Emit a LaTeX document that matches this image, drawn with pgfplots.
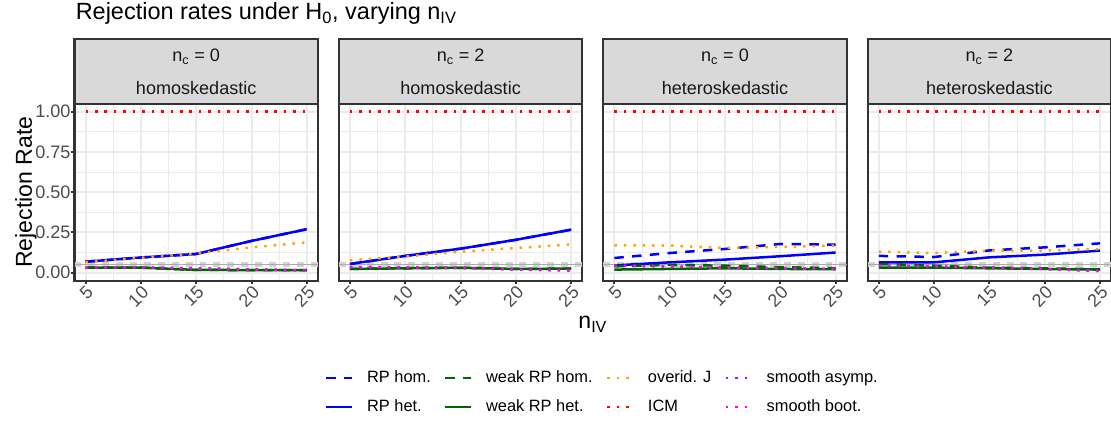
\documentclass[border=0pt]{standalone}
\usepackage{fontspec}
\setmainfont{Liberation Sans}
\usepackage{pgfplots}
\usepackage{pgfplotstable}
\pgfplotsset{compat=1.18}
\newlength\px
\setlength\px{0.72pt}
\definecolor{g92}{gray}{0.92}
\definecolor{g85}{gray}{0.85}
\definecolor{g20}{gray}{0.2}
\definecolor{g30}{gray}{0.3}
\definecolor{g10}{gray}{0.1}
\definecolor{rpblue}{RGB}{0,0,255}
\definecolor{wkgreen}{RGB}{0,100,0}
\definecolor{jorange}{RGB}{255,165,0}
\definecolor{icmred}{RGB}{255,0,0}
\definecolor{spurple}{RGB}{160,32,240}
\definecolor{smag}{RGB}{255,0,255}
\newcommand\tickfont{\fontsize{13}{15}\selectfont}
\newcommand\legfont{\fontsize{11.8}{14}\selectfont}
\newcommand\titlefont{\fontsize{16.9}{20}\selectfont}
\newcommand\labfont{\fontsize{16.6}{20}\selectfont}

\pgfplotstableread{
n rphom rphet wkhom wkhet J ICM sasy sboot
5 0.068 0.068 0.031 0.031 0.064 1 0.034 0.033
10 0.094 0.094 0.031 0.031 0.092 1 0.032 0.032
15 0.116 0.116 0.017 0.017 0.119 1 0.027 0.026
20 0.197 0.197 0.016 0.016 0.157 1 0.021 0.020
25 0.270 0.270 0.016 0.016 0.188 1 0.014 0.013
}\tabA
\pgfplotstableread{
n rphom rphet wkhom wkhet J ICM sasy sboot
5 0.054 0.054 0.023 0.023 0.077 1 0.035 0.035
10 0.104 0.104 0.027 0.027 0.100 1 0.033 0.033
15 0.149 0.149 0.030 0.030 0.130 1 0.029 0.029
20 0.204 0.204 0.023 0.023 0.153 1 0.020 0.019
25 0.267 0.267 0.025 0.025 0.175 1 0.014 0.013
}\tabB
\pgfplotstableread{
n rphom rphet wkhom wkhet J ICM sasy sboot
5 0.091 0.045 0.039 0.019 0.170 1 0.043 0.043
10 0.122 0.064 0.048 0.023 0.168 1 0.039 0.039
15 0.147 0.081 0.043 0.027 0.153 1 0.031 0.031
20 0.178 0.102 0.034 0.023 0.160 1 0.027 0.027
25 0.174 0.125 0.028 0.021 0.168 1 0.023 0.023
}\tabC
\pgfplotstableread{
n rphom rphet wkhom wkhet J ICM sasy sboot
5 0.104 0.064 0.054 0.031 0.130 1 0.043 0.043
10 0.097 0.064 0.043 0.031 0.122 1 0.039 0.039
15 0.138 0.095 0.031 0.027 0.137 1 0.031 0.031
20 0.157 0.112 0.027 0.023 0.137 1 0.023 0.022
25 0.182 0.137 0.021 0.019 0.147 1 0.011 0.010
}\tabD

\tikzset{
  s dash/.style={dash pattern=on 6.8pt off 6pt},
  s dot/.style={dash pattern=on 1.8pt off 5pt},
  s rphom/.style={rpblue, line width=1.8pt, s dash},
  s rphet/.style={rpblue, line width=1.8pt, solid},
  s wkhom/.style={wkgreen, line width=1.8pt, s dash},
  s wkhet/.style={wkgreen, line width=1.8pt, solid},
  s J/.style={jorange, line width=1.8pt, s dot},
  s ICM/.style={icmred, line width=1.8pt, s dot},
  s sasy/.style={spurple, line width=1.8pt, s dot},
  s sboot/.style={smag, line width=1.8pt, s dot},
  s band/.style={gray!35, line width=3.6pt, dash pattern=on 5pt off 5pt},
  s ref/.style={gray!65, line width=0.6pt},
}

\pgfplotsset{
  panel/.style={
    scale only axis, width=243.4\px, height=177.1\px, anchor=south west,
    xmin=4, xmax=26, ymin=-0.05, ymax=1.05,
    xtick={5,10,15,20,25}, ytick={0,0.25,0.5,0.75,1},
    minor xtick={7.5,12.5,17.5,22.5}, minor ytick={0.125,0.375,0.625,0.875},
    grid=both,
    major grid style={g92, line width=1.45pt},
    minor grid style={g92, line width=0.72pt},
    axis line style={g20, line width=1.45pt},
    tick align=outside, tick pos=left,
    major tick length=3.8\px, minor tick length=0pt,
    tick style={g20, line width=1.45pt},
    tick label style={font=\tickfont, text=g30},
    /pgf/number format/assume math mode=true,
    xticklabel style={inner sep=0pt, rotate=45, anchor=north east},
    yticklabel style={inner sep=0pt, anchor=east},
    clip=false,
  },
}

\newcommand\panel[5]{%
\begin{axis}[panel, at={(#1\px,142.3\px)}, #5,
  after end axis/.append code={
    \draw[fill=g85, draw=g20, line width=1.45pt] (axis description cs:0,1) rectangle (axis description cs:1,1.3648);
    \node[anchor=base, font=\tickfont, text=g10, inner sep=0pt] at (axis description cs:0.5,1.2366) {#2};
    \node[anchor=base, font=\tickfont, text=g10, inner sep=0pt] at (axis description cs:0.5,1.0525) {#3};
  }]
  \addplot[s band] coordinates {(4,0.05) (26,0.05)};
  \addplot[s ref] coordinates {(4,0.05) (26,0.05)};
  \addplot[s rphom] table[x=n,y=rphom] {#4};
  \addplot[s rphet] table[x=n,y=rphet] {#4};
  \addplot[s wkhom] table[x=n,y=wkhom] {#4};
  \addplot[s wkhet] table[x=n,y=wkhet] {#4};
  \addplot[s J] table[x=n,y=J] {#4};
  \addplot[s ICM] table[x=n,y=ICM] {#4};
  \addplot[s sasy] table[x=n,y=sasy] {#4};
  \addplot[s sboot] table[x=n,y=sboot] {#4};
\end{axis}}

\begin{document}
\begin{tikzpicture}
\useasboundingbox (0,0) rectangle (1111\px,423\px);
\panel{74.5}{n\textsubscript{c} = 0}{homoskedastic}{\tabA}{yticklabels={0.00,0.25,0.50,0.75,1.00}}
\panel{338.9}{n\textsubscript{c} = 2}{homoskedastic}{\tabB}{yticklabels={}, ytick style={draw=none}}
\panel{603.3}{n\textsubscript{c} = 0}{heteroskedastic}{\tabC}{yticklabels={}, ytick style={draw=none}}
\panel{867.7}{n\textsubscript{c} = 2}{heteroskedastic}{\tabD}{yticklabels={}, ytick style={draw=none}}

\node[anchor=base west, font=\titlefont, inner sep=0pt] at (75.5\px,403\px) {Rejection rates under H\textsubscript{0}, varying n\textsubscript{IV}};
\node[anchor=center, rotate=90, font=\labfont, inner sep=0pt] at (26\px,230.9\px) {Rejection Rate};
\node[anchor=base, font=\labfont, inner sep=0pt] at (592.8\px,94\px) {n\textsubscript{IV}};

\begin{axis}[hide axis, scale only axis, width=10\px, height=10\px, anchor=south west,
  at={(325\px,25.5\px)}, xmin=0, xmax=1, ymin=0, ymax=1,
  legend columns=4,
  legend image code/.code={\draw[#1] (0pt,0pt) -- (18.7pt,0pt);},
  legend cell align=left,
  legend style={draw=none, fill=none, inner sep=0pt, outer sep=0pt,
    at={(0,0.5)}, anchor=west, font=\legfont, row sep=9.9pt,
    nodes={inner sep=0pt, text height=8.5pt, text depth=2.5pt},
    /tikz/every odd column/.append style={column sep=9.8pt},
    /tikz/every even column/.append style={column sep=9.5pt}}]
\addlegendimage{s rphom} \addlegendentry{RP hom.}
\addlegendimage{s wkhom} \addlegendentry{weak RP hom.}
\addlegendimage{s J} \addlegendentry{overid. J}
\addlegendimage{s sasy} \addlegendentry{smooth asymp.}
\addlegendimage{s rphet} \addlegendentry{RP het.}
\addlegendimage{s wkhet} \addlegendentry{weak RP het.}
\addlegendimage{s ICM} \addlegendentry{ICM}
\addlegendimage{s sboot} \addlegendentry{smooth boot.}
\end{axis}
\end{tikzpicture}
\end{document}
